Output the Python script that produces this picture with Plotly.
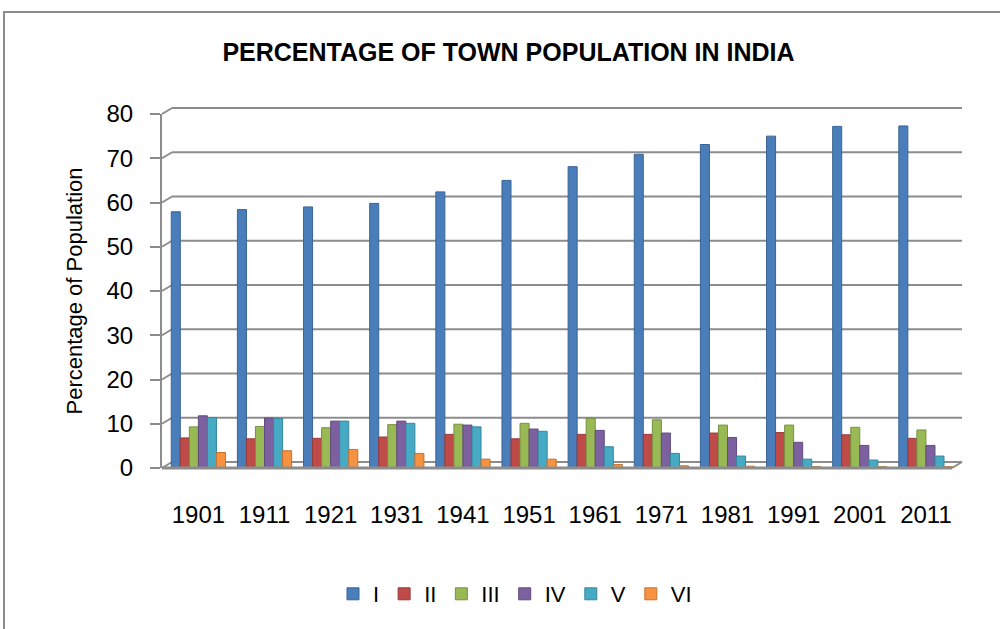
import plotly.graph_objects as go

years = ["1901", "1911", "1921", "1931", "1941", "1951", "1961", "1971", "1981", "1991", "2001", "2011"]
class_names = ["I", "II", "III", "IV", "V", "VI"]

class_I = [57.9, 58.4, 59.0, 59.8, 62.4, 65.0, 68.1, 70.9, 73.1, 75.0, 77.2, 77.3]
class_II = [6.8, 6.6, 6.7, 7.0, 7.6, 6.6, 7.6, 7.6, 7.9, 8.0, 7.5, 6.7]
class_III = [9.3, 9.4, 9.1, 9.8, 9.9, 10.1, 11.2, 10.9, 9.7, 9.7, 9.2, 8.6]
class_IV = [11.8, 11.3, 10.6, 10.6, 9.7, 8.8, 8.5, 7.9, 6.9, 5.8, 5.1, 5.1]
class_V = [11.4, 11.2, 10.6, 10.1, 9.3, 8.3, 4.8, 3.3, 2.7, 2.0, 1.8, 2.7]
class_VI = [3.5, 3.9, 4.2, 3.3, 2.0, 2.0, 0.8, 0.5, 0.4, 0.3, 0.3, 0.3]

y_ticks = [0, 10, 20, 30, 40, 50, 60, 70, 80]

series = [class_I, class_II, class_III, class_IV, class_V, class_VI]
colors = ["#4A7EBB", "#BE4B48", "#98B954", "#7D60A0", "#46AAC5", "#F69240"]
edge = ["#3A6495", "#963A38", "#779142", "#624B7E", "#36879B", "#C47330"]

W, H = 1000, 629
GRID = "#8C8C8C"
DX, DY = 10, 6  # 3D depth offset in pixels
Y_MAX = 80
Y_BOTTOM_PX, Y_TOP_PX = 468, 114


def px_x(x):
    return x / W


def px_y(y):
    return 1 - y / H


Y_DOM = [px_y(Y_BOTTOM_PX), px_y(Y_TOP_PX)]


def val_to_paper(v, lift_px=0):
    return Y_DOM[0] + (v / Y_MAX) * (Y_DOM[1] - Y_DOM[0]) + lift_px / H


fig = go.Figure()
for name, vals, c, e in zip(class_names, series, colors, edge):
    fig.add_trace(go.Bar(
        x=years, y=vals, name=name,
        marker=dict(color=c, line=dict(color=e, width=1)),
    ))

shapes = [
    dict(type="rect", xref="paper", yref="paper",
         x0=px_x(4), x1=px_x(1010), y0=px_y(660), y1=px_y(12),
         line=dict(color=GRID, width=2), fillcolor="rgba(0,0,0,0)", layer="below"),
]
# back-wall gridlines and diagonal connectors (3D look)
for v in y_ticks:
    shapes.append(dict(type="line", xref="paper", yref="paper",
                       x0=px_x(162 + DX), x1=px_x(962),
                       y0=val_to_paper(v, DY), y1=val_to_paper(v, DY),
                       line=dict(color=GRID, width=2), layer="below"))
    shapes.append(dict(type="line", xref="paper", yref="paper",
                       x0=px_x(162), x1=px_x(162 + DX),
                       y0=val_to_paper(v), y1=val_to_paper(v, DY),
                       line=dict(color=GRID, width=2), layer="below"))
# floor front edge and right slant
shapes.append(dict(type="line", xref="paper", yref="paper",
                   x0=px_x(162), x1=px_x(952), y0=val_to_paper(0), y1=val_to_paper(0),
                   line=dict(color=GRID, width=3), layer="above"))
shapes.append(dict(type="line", xref="paper", yref="paper",
                   x0=px_x(952), x1=px_x(952 + DX), y0=val_to_paper(0), y1=val_to_paper(0, DY),
                   line=dict(color=GRID, width=2), layer="above"))

fig.update_layout(
    width=W, height=H,
    margin=dict(l=0, r=0, t=0, b=0, autoexpand=False),
    paper_bgcolor="white", plot_bgcolor="rgba(0,0,0,0)",
    barmode="group", bargap=0.18, bargroupgap=0.0,
    font=dict(family="Liberation Sans, Arial, sans-serif", color="#000000"),
    title=dict(
        text="<b>PERCENTAGE OF TOWN POPULATION IN INDIA</b>",
        x=0.5085, xanchor="center", y=px_y(52), yanchor="middle",
        font=dict(size=25, family="Liberation Sans, Arial, sans-serif", color="#000000"),
    ),
    xaxis=dict(
        domain=[px_x(162), px_x(959)],
        range=[-0.55, 11.5], automargin=False,
        showgrid=False, showline=False, zeroline=False,
        ticks="", tickfont=dict(size=24, color="#000000"),
        ticklabelstandoff=30,
    ),
    yaxis=dict(
        domain=Y_DOM,
        range=[0, Y_MAX], tickvals=y_ticks, automargin=False,
        showgrid=False,
        showline=True, linecolor=GRID, linewidth=2,
        ticks="outside", ticklen=10, tickcolor=GRID, tickwidth=2,
        tickfont=dict(size=24, color="#000000"),
        ticklabelstandoff=12,
        zeroline=False,
        title=dict(text="Percentage of Population", font=dict(size=22, color="#000000"), standoff=18),
    ),
    legend=dict(
        orientation="h", x=0.515, xanchor="center", y=px_y(594), yanchor="middle",
        font=dict(size=22, color="#000000"), itemwidth=30, traceorder="normal",
    ),
    shapes=shapes,
)

fig.write_html("out.html", config={"displayModeBar": False},
               post_script="document.body.style.margin='0px';document.body.style.overflow='hidden';")
